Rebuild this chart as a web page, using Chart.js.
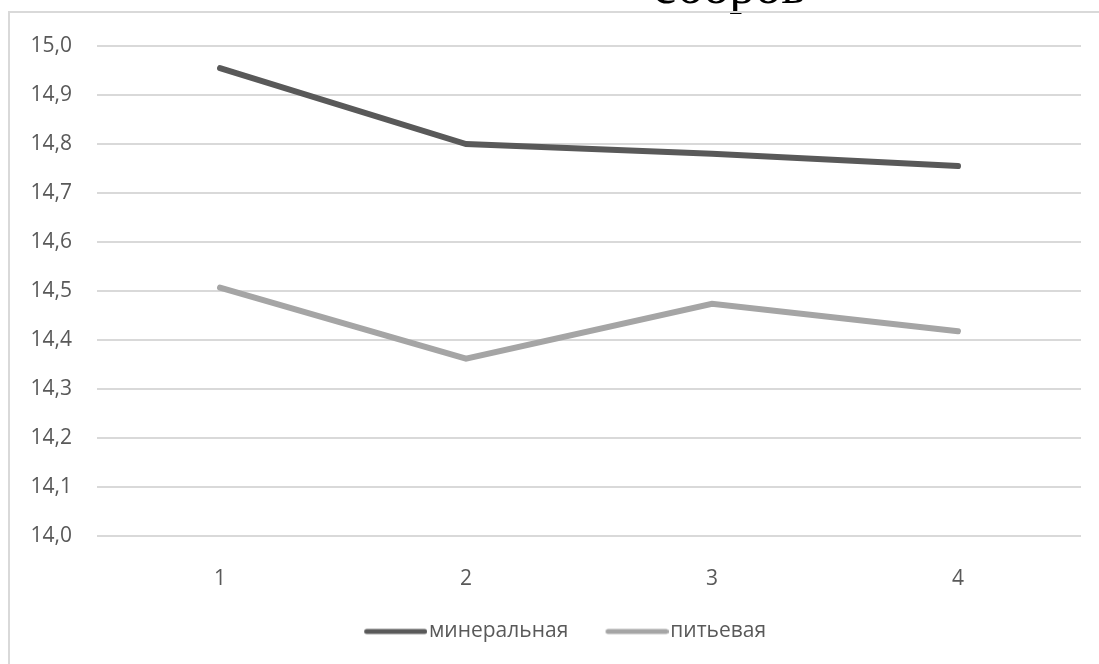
<!DOCTYPE html>
<html lang="ru">
<head>
<meta charset="utf-8">
<script src="https://cdn.jsdelivr.net/npm/chart.js@4.4.1/dist/chart.umd.min.js"></script>
<style>
  html, body { margin: 0; padding: 0; background: #fff; }
  #wrap { position: relative; width: 1099px; height: 664px; overflow: hidden; background: #fff; }
  #heading {
    position: absolute; left: 653px; top: -40px;
    font-family: "Liberation Serif", "Times New Roman", serif;
    font-size: 52px; line-height: 52px; color: #000; white-space: nowrap;
  }
  #frame {
    position: absolute; left: 8px; top: 11px; width: 1300px; height: 900px;
    border: 2px solid #d9d9d9; box-sizing: border-box;
  }
  #chart { position: absolute; left: 0; top: 0; }
</style>
</head>
<body>
<div id="wrap">
  <div id="heading">сборов</div>
  <div id="frame"></div>
  <canvas id="chart" width="1099" height="664"></canvas>
</div>
<script>
// Measurement rounds and the two water types
const categories = ['1', '2', '3', '4'];
const mineralValues = [14.955, 14.80, 14.78, 14.755];
const drinkingValues = [14.507, 14.362, 14.474, 14.418];
const seriesNames = ['минеральная', 'питьевая'];
const yMin = 14.0;
const yMax = 15.0;
const yStep = 0.1;

const FONT = '"Open Sans", "Noto Sans", sans-serif';
const TEXT = '#595959';
const LINE_WIDTH = 6;
const LEGEND_FONT_SIZE = 21;
const LEGEND_SLOT = 61.5;   // width Chart.js reserves for the legend marker
const LEGEND_LINE = 63;     // drawn length of the legend line

// Legend marker: a thick rounded line that ends just before the label text
function legendLine(color) {
  const reach = LEGEND_SLOT / 2 + LEGEND_FONT_SIZE / 2 - 2;
  const w = Math.round(reach * 2);
  const c = document.createElement('canvas');
  c.width = w;
  c.height = 8;
  const g = c.getContext('2d');
  g.strokeStyle = color;
  g.lineWidth = LINE_WIDTH - 1;
  g.lineCap = 'round';
  g.beginPath();
  g.moveTo(w - LEGEND_LINE + 2.5, 4);
  g.lineTo(w - 2.5, 4);
  g.stroke();
  return c;
}

// Nudge the legend row so it sits slightly right of the canvas centre
const legendShift = {
  id: 'legendShift',
  afterLayout(chart) {
    if (chart.legend) { chart.legend.left += 42; }
  }
};

new Chart(document.getElementById('chart'), {
  type: 'line',
  data: {
    labels: categories,
    datasets: [
      {
        label: seriesNames[0],
        data: mineralValues,
        borderColor: '#595959',
        backgroundColor: '#595959',
        borderWidth: LINE_WIDTH,
        pointRadius: 0,
        pointStyle: legendLine('#595959'),
        tension: 0,
        borderCapStyle: 'round'
      },
      {
        label: seriesNames[1],
        data: drinkingValues,
        borderColor: '#a5a5a5',
        backgroundColor: '#a5a5a5',
        borderWidth: LINE_WIDTH,
        pointRadius: 0,
        pointStyle: legendLine('#a5a5a5'),
        tension: 0,
        borderCapStyle: 'round'
      }
    ]
  },
  plugins: [legendShift],
  options: {
    responsive: false,
    animation: false,
    layout: { padding: { left: 0, right: 18, top: 46, bottom: 12 } },
    plugins: {
      tooltip: { enabled: false },
      legend: {
        position: 'bottom',
        labels: {
          usePointStyle: true,
          pointStyleWidth: LEGEND_SLOT,
          boxHeight: 5,
          padding: 30,
          color: TEXT,
          font: { family: FONT, size: LEGEND_FONT_SIZE }
        }
      }
    },
    scales: {
      x: {
        offset: true,
        grid: { display: false, drawTicks: false },
        border: { display: false },
        ticks: { color: TEXT, padding: 30, font: { family: FONT, size: 21 } },
        afterFit: (s) => { s.height = 55; }
      },
      y: {
        min: yMin,
        max: yMax,
        grid: { color: '#d9d9d9', lineWidth: 2, drawTicks: false },
        border: { display: false },
        ticks: {
          stepSize: yStep,
          color: TEXT,
          padding: 25,
          font: { family: FONT, size: 21 },
          callback: (v) => Number(v).toFixed(1).replace('.', ',')
        },
        afterFit: (s) => { s.width = 97; }
      }
    }
  }
});
</script>
</body>
</html>
